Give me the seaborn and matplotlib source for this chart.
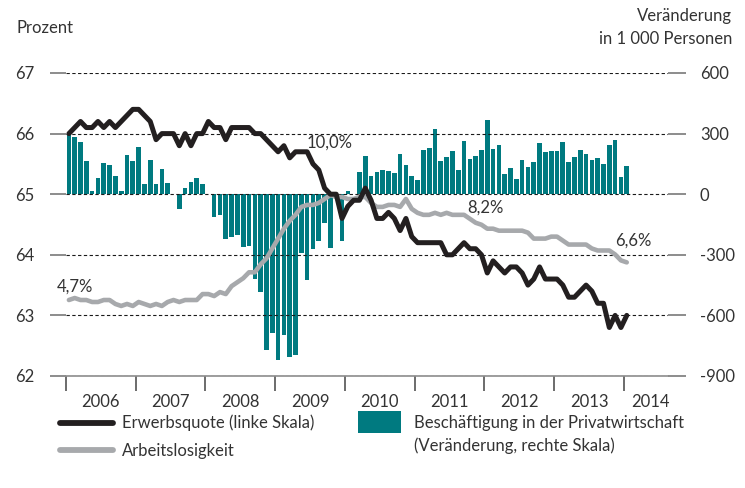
import numpy as np
import pandas as pd
import matplotlib
matplotlib.use("Agg")
import matplotlib.pyplot as plt
import seaborn as sns
from matplotlib.lines import Line2D
from matplotlib.patches import Rectangle

# monthly values, Jan 2006 .. Jan 2014
participation = [
    66.0, 66.1, 66.2, 66.1, 66.1, 66.2, 66.1, 66.2, 66.1, 66.2, 66.3, 66.4,
    66.4, 66.3, 66.2, 65.9, 66.0, 66.0, 66.0, 65.8, 66.0, 65.8, 66.0, 66.0,
    66.2, 66.1, 66.1, 65.9, 66.1, 66.1, 66.1, 66.1, 66.0, 66.0, 65.9, 65.8,
    65.7, 65.8, 65.6, 65.7, 65.7, 65.7, 65.5, 65.4, 65.1, 65.0, 65.0, 64.6,
    64.8, 64.9, 64.9, 65.1, 64.9, 64.6, 64.6, 64.7, 64.6, 64.4, 64.6, 64.3,
    64.2, 64.2, 64.2, 64.2, 64.2, 64.0, 64.0, 64.1, 64.2, 64.1, 64.1, 64.0,
    63.7, 63.9, 63.8, 63.7, 63.8, 63.8, 63.7, 63.5, 63.6, 63.8, 63.6, 63.6,
    63.6, 63.5, 63.3, 63.3, 63.4, 63.5, 63.4, 63.2, 63.2, 62.8, 63.0, 62.8,
    63.0,
]
unemployment = [
    4.7, 4.8, 4.7, 4.7, 4.6, 4.6, 4.7, 4.7, 4.5, 4.4, 4.5, 4.4,
    4.6, 4.5, 4.4, 4.5, 4.4, 4.6, 4.7, 4.6, 4.7, 4.7, 4.7, 5.0,
    5.0, 4.9, 5.1, 5.0, 5.4, 5.6, 5.8, 6.1, 6.1, 6.5, 6.8, 7.3,
    7.8, 8.3, 8.7, 9.0, 9.4, 9.5, 9.5, 9.6, 9.8, 10.0, 9.9, 9.9,
    9.8, 9.8, 9.9, 9.9, 9.6, 9.4, 9.4, 9.5, 9.5, 9.4, 9.8, 9.3,
    9.1, 9.0, 9.0, 9.1, 9.0, 9.1, 9.0, 9.0, 9.0, 8.8, 8.6, 8.5,
    8.3, 8.3, 8.2, 8.2, 8.2, 8.2, 8.2, 8.1, 7.8, 7.8, 7.8, 7.9,
    7.9, 7.7, 7.5, 7.5, 7.5, 7.5, 7.3, 7.2, 7.2, 7.2, 7.0, 6.7,
    6.6,
]
private_jobs = [
    298, 282, 257, 166, 17, 81, 156, 146, 88, 17, 196, 166,
    232, 51, 171, 51, 126, 56, 3, -71, 31, 61, 81, 51,
    3, -115, -105, -223, -213, -203, -262, -257, -418, -482, -769, -689,
    -820, -695, -804, -794, -292, -425, -272, -233, -141, -267, -5, -233,
    16, 3, 111, 190, 91, 111, 121, 116, 106, 200, 146, 91,
    71, 220, 230, 321, 166, 186, 215, 121, 265, 176, 191, 220,
    365, 225, 245, 101, 131, 76, 171, 136, 161, 255, 210, 215,
    215, 260, 161, 186, 220, 200, 171, 181, 151, 245, 270, 86,
    141,
]
years = ["2006", "2007", "2008", "2009", "2010", "2011", "2012", "2013", "2014"]
left_ticks = [62, 63, 64, 65, 66, 67]
right_ticks = [-900, -600, -300, 0, 300, 600]
# labelled points of the unemployment line: (month index, text)
alq_labels = [(0, "4,7%"), (45, "10,0%"), (74, "8,2%"), (96, "6,6%")]

df = pd.DataFrame({
    "pos": np.arange(len(participation)),
    "quote": participation,
    "alq": unemployment,
    "jobs": private_jobs,
})

teal = "#007A80"
black = "#231F20"
grey = "#A7A9AC"
txt = "#333333"
fs = 12

sns.set_theme(style="white")
plt.rcParams["font.family"] = ["Liberation Sans Narrow", "Lato", "DejaVu Sans"]
plt.rcParams["font.size"] = fs
plt.rcParams["text.color"] = txt

fig = plt.figure(figsize=(7.45, 4.88), dpi=100)
ax = fig.add_axes([66 / 745, 1 - 376 / 488, 602 / 745, 303 / 488])
ax_bar = ax.twinx()
ax_alq = ax.twinx()

sns.barplot(data=df, x="pos", y="jobs", color=teal, saturation=1, width=0.8,
            linewidth=0, ax=ax_bar)
sns.lineplot(data=df, x="pos", y="alq", color=grey, lw=3.3, ax=ax_alq)
sns.lineplot(data=df, x="pos", y="quote", color=black, lw=3.6, ax=ax)

ax_bar.set_zorder(1)
ax_alq.set_zorder(2)
ax.set_zorder(3)
ax.patch.set_visible(False)
ax_alq.patch.set_visible(False)

ax.set_ylim(62, 67)
ax_bar.set_ylim(-900, 600)
ax_alq.set_ylim(0.864, 16.16)
ax.set_xlim(-0.5, 103.1)

for a in (ax, ax_bar, ax_alq):
    a.set_xlabel("")
    a.set_ylabel("")
    for s in a.spines.values():
        s.set_visible(False)
ax.spines["bottom"].set_visible(True)
ax.spines["bottom"].set_color("#8c8c8c")
ax.spines["bottom"].set_linewidth(1.2)

# dashed grid on the bar axis, above the bars
ax_bar.set_yticks(right_ticks)
ax_bar.set_yticklabels([str(v) for v in right_ticks])
ax_bar.set_axisbelow(False)
ax_bar.yaxis.grid(True, linestyle=(0, (3, 2.2)), color="#1a1a1a", lw=0.8)
ax_bar.xaxis.grid(False)
ax_bar.tick_params(axis="y", right=True, left=False, direction="out", length=13,
                   width=1.4, color="#8c8c8c", pad=10, labelsize=fs, labelcolor=txt)

ax.grid(False)
ax_alq.grid(False)
ax_alq.yaxis.set_visible(False)

ax.set_yticks(left_ticks)
ax.set_yticklabels([str(v) for v in left_ticks])
ax.tick_params(axis="y", left=True, direction="out", length=11.5, width=1.4,
               color="#8c8c8c", pad=11, labelsize=fs, labelcolor=txt)

ax.set_xticks([-0.5 + 12 * k for k in range(9)])
ax.set_xticklabels([])
ax.set_xticks([5.5 + 12 * k for k in range(8)] + [100.1], minor=True)
ax.set_xticklabels(years, minor=True)
ax.tick_params(axis="x", which="major", bottom=True, direction="out", length=11,
               width=1.1, color="#444444")
ax.tick_params(axis="x", which="minor", bottom=True, length=0, pad=13,
               labelsize=fs, labelcolor=txt)

offsets = {0: (4.7, 9.4), 45: (-0.7, 38), 74: (-9.6, 16.3), 96: (4.8, 16)}
for i, label in alq_labels:
    ax_alq.annotate(label, xy=(i, unemployment[i]), xytext=offsets[i],
                    textcoords="offset points", ha="center", va="center",
                    fontsize=fs, color=txt)

fig.text(16 / 745, 1 - 28 / 488, "Prozent", ha="left", va="center")
fig.text(732 / 745, 1 - 16 / 488, "Veränderung", ha="right", va="center")
fig.text(732 / 745, 1 - 39 / 488, "in 1 000 Personen", ha="right", va="center")

# legend
fig.add_artist(Line2D([60 / 745, 113 / 745], [1 - 423 / 488] * 2, color=black, lw=4.2,
                      solid_capstyle="round"))
fig.add_artist(Line2D([60 / 745, 113 / 745], [1 - 450 / 488] * 2, color=grey, lw=4.2,
                      solid_capstyle="round"))
fig.add_artist(Rectangle((358 / 745, 1 - 433 / 488), 43 / 745, 22 / 488,
                         transform=fig.transFigure, color=teal, lw=0))
fig.text(122 / 745, 1 - 423 / 488, "Erwerbsquote (linke Skala)", ha="left", va="center")
fig.text(122 / 745, 1 - 451 / 488, "Arbeitslosigkeit", ha="left", va="center")
fig.text(414 / 745, 1 - 423 / 488, "Beschäftigung in der Privatwirtschaft", ha="left", va="center")
fig.text(414 / 745, 1 - 446 / 488, "(Veränderung, rechte Skala)", ha="left", va="center")

fig.savefig("out.png", dpi=100)
